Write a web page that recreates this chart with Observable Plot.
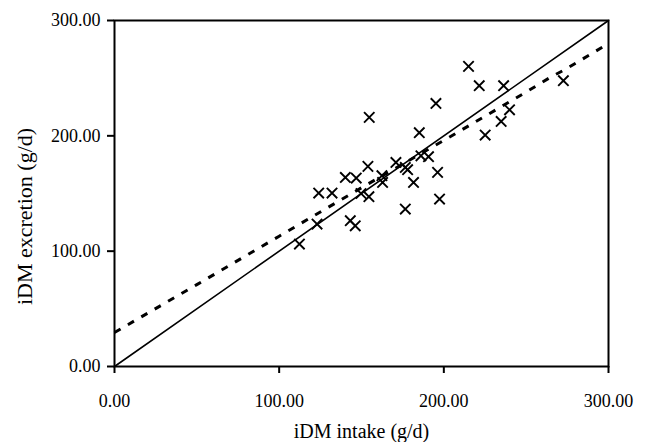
<!DOCTYPE html>
<html>
<head>
<meta charset="utf-8">
<script src="https://cdn.jsdelivr.net/npm/d3@7"></script>
<script src="https://cdn.jsdelivr.net/npm/@observablehq/plot@0.6"></script>
<style>
  html, body { margin: 0; padding: 0; background: white; }
  #chart { width: 646px; height: 442px; }
</style>
</head>
<body>
<div id="chart"></div>
<script>
// Observed points: iDM intake (g/d) vs iDM excretion (g/d)
const intake = [215.0, 221.5, 236.3, 272.6, 195.2, 154.7, 185.1, 239.9, 234.8, 225.1,
                170.9, 186.1, 190.7, 176.6, 178.0, 153.9, 140.2, 146.8, 162.4, 162.8,
                196.2, 181.6, 124.0, 132.1, 149.7, 154.5, 197.4, 176.6, 123.0, 143.2,
                146.2, 112.3];
const excretion = [260.2, 243.5, 243.5, 247.8, 228.1, 216.0, 202.7, 222.6, 212.5, 200.7,
                   176.9, 182.7, 181.9, 172.6, 170.6, 173.5, 163.9, 163.4, 165.4, 159.6,
                   168.3, 159.6, 150.4, 150.4, 150.0, 147.2, 145.2, 136.5, 123.5, 126.4,
                   122.0, 106.2];

// Dashed fitted line
const fitX = [0, 50, 100, 150, 200, 250, 265, 273, 300];
const fitY = [29.5, 71, 113, 155, 196, 238, 251, 257, 280];

// Identity line
const idX = [0, 300];
const idY = [0, 300];

const xTicks = [0, 100, 200, 300];
const yTicks = [0, 100, 200, 300];
const xLabel = "iDM intake (g/d)";
const yLabel = "iDM excretion (g/d)";

const points = intake.map((x, i) => ({x, y: excretion[i]}));
const fit = fitX.map((x, i) => ({x, y: fitY[i]}));
const ident = idX.map((x, i) => ({x, y: idY[i]}));

const fmt = d3.format(".2f");

const chart = Plot.plot({
  width: 646,
  height: 442,
  marginLeft: 114,
  marginRight: 38,
  marginTop: 20,
  marginBottom: 76,
  style: {fontFamily: "'Liberation Serif', 'Times New Roman', serif", fontSize: "18px", color: "black", background: "white"},
  x: {domain: [0, 300]},
  y: {domain: [0, 300]},
  marks: [
    Plot.line(ident, {x: "x", y: "y", stroke: "black", strokeWidth: 1.6}),
    Plot.line(fit, {x: "x", y: "y", stroke: "black", strokeWidth: 3, strokeDasharray: "7,8.5", strokeLinecap: "butt"}),
    Plot.dot(points, {x: "x", y: "y", symbol: "times", r: 4.8, stroke: "black", strokeWidth: 1.9}),
    Plot.frame({stroke: "black", strokeWidth: 2}),
    Plot.axisX({ticks: xTicks, tickFormat: fmt, tickSize: 7, tickPadding: 21, strokeWidth: 2, label: null, fontSize: 18}),
    Plot.axisY({ticks: yTicks, tickFormat: fmt, tickSize: 7, tickPadding: 7, strokeWidth: 2, label: null, fontSize: 18}),
    Plot.text([xLabel], {frameAnchor: "bottom", text: d => d, dy: 71, lineAnchor: "bottom", textAnchor: "middle", fontSize: 20}),
    Plot.text([yLabel], {frameAnchor: "left", text: d => d, dx: -82.5, dy: 23, rotate: -90, lineAnchor: "bottom", textAnchor: "middle", fontSize: 22, ariaLabel: "ylabel"})
  ]
});
d3.select(chart).selectAll("g[aria-label='ylabel'] text")
  .attr("textLength", 212)
  .attr("lengthAdjust", "spacingAndGlyphs");
document.getElementById("chart").appendChild(chart);
</script>
</body>
</html>
